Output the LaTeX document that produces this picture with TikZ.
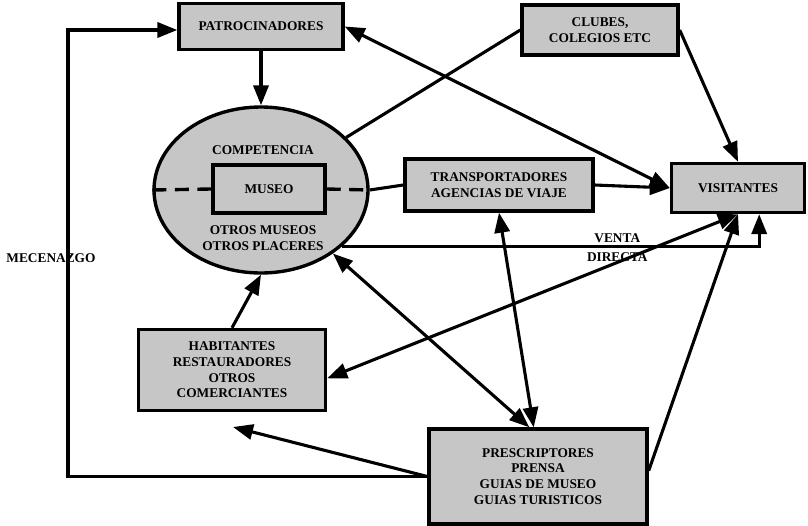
\documentclass[tikz,border=0pt]{standalone}
\usepackage{fontspec}
\setmainfont{Liberation Serif}
\usetikzlibrary{shapes.geometric,arrows.meta,positioning}
\tikzset{
  caja/.style={draw, line width=2.4pt, fill=gray!45, align=center, inner sep=2pt,
    font=\bfseries\fontsize{9.5}{11.2}\selectfont},
  txt/.style={font=\bfseries\fontsize{9.5}{11.2}\selectfont, inner sep=1pt},
  arr/.style={line width=2.2pt, -{Triangle[length=5mm,width=3.8mm]}},
  dbl/.style={line width=2.2pt, {Triangle[length=5mm,width=3.8mm]}-{Triangle[length=5mm,width=3.8mm]}},
  lin/.style={line width=2.2pt},
  corte/.style={line width=2.4pt, dash pattern=on 10pt off 6pt}
}
\begin{document}
\begin{tikzpicture}[x=0.25mm, y=-0.25mm]
    \useasboundingbox (0,0) rectangle (808,526);
    % centre: competencia
    \node[ellipse, draw, line width=2.4pt, fill=gray!45, minimum width=53.5mm, minimum height=41.5mm, inner sep=0pt] (ell) at (261,190) {};
    \node[caja, minimum width=28mm, minimum height=12mm] (museo) at (269,189) {MUSEO};
    \node[txt] (comp) at (263,150) {COMPETENCIA};
    \node[txt, align=center] (otros) at (263,238) {OTROS MUSEOS\\OTROS PLACERES};
    \draw[corte] (ell.west) -- (museo.west);
    \draw[corte] (museo.east) -- (ell.east);
    % cajas
    \node[caja, minimum width=41mm, minimum height=11.5mm] (pat) at (261,26.5) {PATROCINADORES};
    \node[caja, minimum width=39mm, minimum height=12.5mm] (clubs) at (600,30) {CLUBES,\\COLEGIOS ETC};
    \node[caja, minimum width=47mm, minimum height=13mm] (transp) at (499,185) {TRANSPORTADORES\\AGENCIAS DE VIAJE};
    \node[caja, minimum width=33.25mm, minimum height=12.25mm] (visit) at (738,188) {VISITANTES};
    \node[caja, minimum width=46.75mm, minimum height=20.25mm] (habit) at (232,370) {HABITANTES\\RESTAURADORES\\OTROS\\COMERCIANTES};
    \node[caja, minimum width=54.5mm, minimum height=23.75mm] (presc) at (538,476.5) {PRESCRIPTORES\\PRENSA\\GUIAS DE MUSEO\\GUIAS TURISTICOS};
    \node[txt] (mec) at (51,258) {MECENAZGO};
    \coordinate (bend) at (68,30);
    \coordinate (habfoot) at (233,427);
    % flechas
    \draw[arr] (pat) -- (ell);
    \draw[lin] (ell) -- (clubs.west);
    \draw[dbl] (pat.east) -- (visit.west);
    \draw[arr] (clubs.east) -- (visit.north);
    \draw[lin] (ell.east) -- (transp.west);
    \draw[arr] (transp.east) -- (visit.west);
    \draw[arr] (ell.-35) -| (visit.-51)
        node[txt, pos=0.33, above=1pt] (venta) {VENTA}
        node[txt, pos=0.33, below=2pt] (directa) {DIRECTA};
    \draw[dbl] (ell) -- (presc.100);
    \draw[dbl] (transp.south) -- (presc.95);
    \draw[dbl] (habit.-5) -- (visit.south);
    \draw[arr] (presc.3) -- (visit.south);
    \draw[arr] (presc.west) -- (habfoot);
    \draw[arr] (habit.north) -- (ell.south);
    \draw[arr] (presc.west) -| (bend) -- (bend -| pat.west);
\end{tikzpicture}
\end{document}
